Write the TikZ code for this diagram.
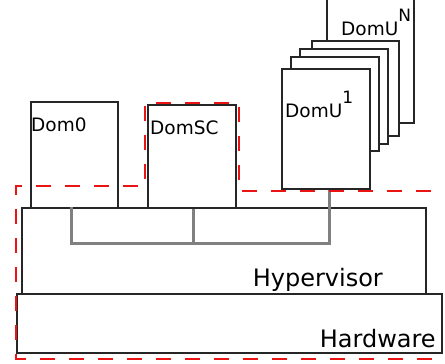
\documentclass[tikz,border=0pt]{standalone}
\usepackage{fontspec}
\setmainfont{DejaVu Sans}
\usepackage{tikz}
\usetikzlibrary{positioning, calc}
\definecolor{zonered}{RGB}{235, 20, 20}
\definecolor{busgrey}{RGB}{128, 128, 128}

\tikzset{
  dombox/.style={draw=black!85, fill=white, line width=1.1pt, inner sep=0pt},
  layerbox/.style={draw=black!85, fill=white, line width=1.1pt, inner sep=0pt},
  domlabel/.style={anchor=base west, inner sep=0pt, font=\fontsize{18.5}{18.5}\selectfont},
  layerlabel/.style={anchor=base west, inner sep=0pt, font=\fontsize{24}{24}\selectfont},
  bus/.style={busgrey, line width=3pt},
  trustzone/.style={zonered, line width=1.8pt, dash pattern=on 15pt off 14pt}
}
\newcommand{\domsup}[1]{\raisebox{14pt}{\fontsize{17}{17}\selectfont #1}}

\begin{document}
\begin{tikzpicture}[x=1pt, y=-1pt]
  \useasboundingbox (0,0) rectangle (445,364);
  \clip (0,0) rectangle (445,364);
  % Layers
  \node[layerbox, minimum width=404pt, minimum height=86pt] (hyper) at (224,251) {};
  \node[layerbox, minimum width=425pt, minimum height=59pt] (hw) at (229.5,323.5) {};
  \node[layerlabel] (hyperlbl) at (252.6,286) {Hypervisor};
  \node[layerlabel] (hwlbl) at (319.6,347) {Hardware};
  % Dom0 and DomSC
  \node[dombox, minimum width=87pt, minimum height=106pt] (dom0) at (74.5,155) {};
  \node[domlabel] (dom0lbl) at (31,131) {Dom0};
  \node[dombox, minimum width=88pt, minimum height=103pt] (domsc) at (192,156.5) {};
  \node[domlabel] (domsclbl) at (150,134) {DomSC};
  % DomU stack, back to front
  \node[dombox, minimum width=87pt, minimum height=140pt] (domuN) at (370.5,53) {};
  \node[domlabel] (domuNlbl) at (341,35) {DomU\domsup{N}};
  \node[dombox, minimum width=87pt, minimum height=95pt] (domu4) at (355.5,88.5) {};
  \node[dombox, minimum width=88pt, minimum height=95pt] (domu3) at (344,96.5) {};
  \node[dombox, minimum width=88pt, minimum height=94pt] (domu2) at (335,104) {};
  \node[dombox, minimum width=88pt, minimum height=120pt] (domu1) at (326,129) {};
  \node[domlabel] (domu1lbl) at (285,117) {DomU\domsup{1}};
  % Links through the hypervisor
  \coordinate (busL) at (71,243);
  \coordinate (busM) at (193,243);
  \coordinate (busR) at (329,243);
  \draw[bus] ($(busL |- dom0.south)+(0,-2)$) -- (busL) -- (busR) -- (busR |- domu1.south);
  \draw[bus] (busM |- domsc.south) -- (busM);
  % Trusted region
  \coordinate (tzA) at (460,191);
  \coordinate (tzB) at (460,359);
  \draw[trustzone] (tzA) -- (239,191) -- (239,103) -- (145,103) -- (145,186)
    -- (16,186) -- (16,359) -- (tzB);
\end{tikzpicture}
\end{document}
